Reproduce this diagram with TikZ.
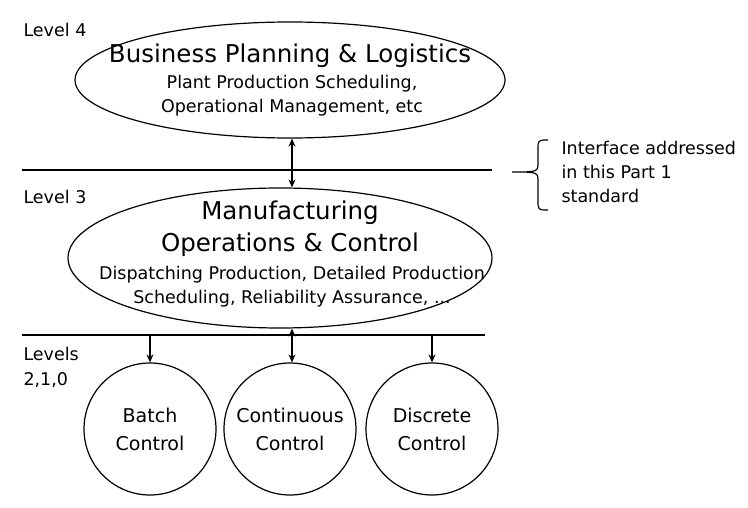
\documentclass[tikz,border=0pt]{standalone}
\usepackage{fontspec}
\setmainfont{DejaVu Sans}
\usetikzlibrary{shapes.geometric,arrows.meta}
\tikzset{
  lvl/.style={anchor=west,font=\fontsize{17.5}{25}\selectfont},
  blob/.style={draw,ellipse,line width=1.2pt,minimum width=#1},
  ctrl/.style={draw,circle,line width=1.2pt,minimum size=132pt,align=center,font=\fontsize{19}{28}\selectfont},
  conn/.style={-{Stealth[length=8pt,width=7pt]},line width=1.2pt},
  both/.style={{Stealth[length=8pt,width=7pt]}-{Stealth[length=8pt,width=7pt]},line width=1.2pt}
}
\begin{document}
\begin{tikzpicture}[x=1pt,y=-1pt]
  \useasboundingbox (0,0) rectangle (748,508);
  % level labels
  \node[lvl] (l4) at (20,30) {Level 4};
  \node[lvl] (l3) at (20,197) {Level 3};
  \node[lvl,align=left] (l210) at (20,367) {Levels\\2,1,0};
  % ellipses
  \node[blob=430pt,minimum height=116pt] (bpl) at (290,80) {};
  \node[font=\fontsize{24.5}{28}\selectfont] at (290,56) {Business Planning \& Logistics};
  \node[font=\fontsize{17.5}{24}\selectfont,align=center] at (292,96) {Plant Production Scheduling,\\Operational Management, etc};
  \node[blob=424pt,minimum height=140pt] (moc) at (280,258) {};
  \node[font=\fontsize{24.5}{32}\selectfont,align=center] at (290,229) {Manufacturing\\Operations \& Control};
  \node[font=\fontsize{17.5}{24}\selectfont,align=center] at (292,287) {Dispatching Production, Detailed Production\\Scheduling, Reliability Assurance, ...};
  % separators
  \draw[line width=1.2pt] (22,170) -- (492,170);
  \draw[line width=1.2pt] (22,335) -- (485,335);
  % interface brace
  \draw[line width=1.2pt] (548,140) .. controls (538,140) and (538,140) .. (538,150) -- (538,162)
    .. controls (538,172) .. (512,172) .. controls (538,172) .. (538,182) -- (538,200)
    .. controls (538,210) and (538,210) .. (548,210);
  \node[anchor=west,align=left,font=\fontsize{17.5}{24}\selectfont] (ifc) at (558,172) {Interface addressed\\in this Part 1\\standard};
  % control circles
  \node[ctrl] (batch) at (150,429) {Batch\\Control};
  \node[ctrl] (cont) at (290,429) {Continuous\\Control};
  \node[ctrl] (disc) at (432,429) {Discrete\\Control};
  \coordinate (t1) at (150,335);
  \coordinate (t2) at (292,335);
  \coordinate (t3) at (432,335);
  % connectors
  \draw[both] (bpl.south -| t2) -- (moc.north -| t2);
  \draw[conn] (t1) -- (batch.north);
  \draw[both] (moc.south -| t2) -- (cont.north -| t2);
  \draw[conn] (t3) -- (disc.north);
\end{tikzpicture}
\end{document}
